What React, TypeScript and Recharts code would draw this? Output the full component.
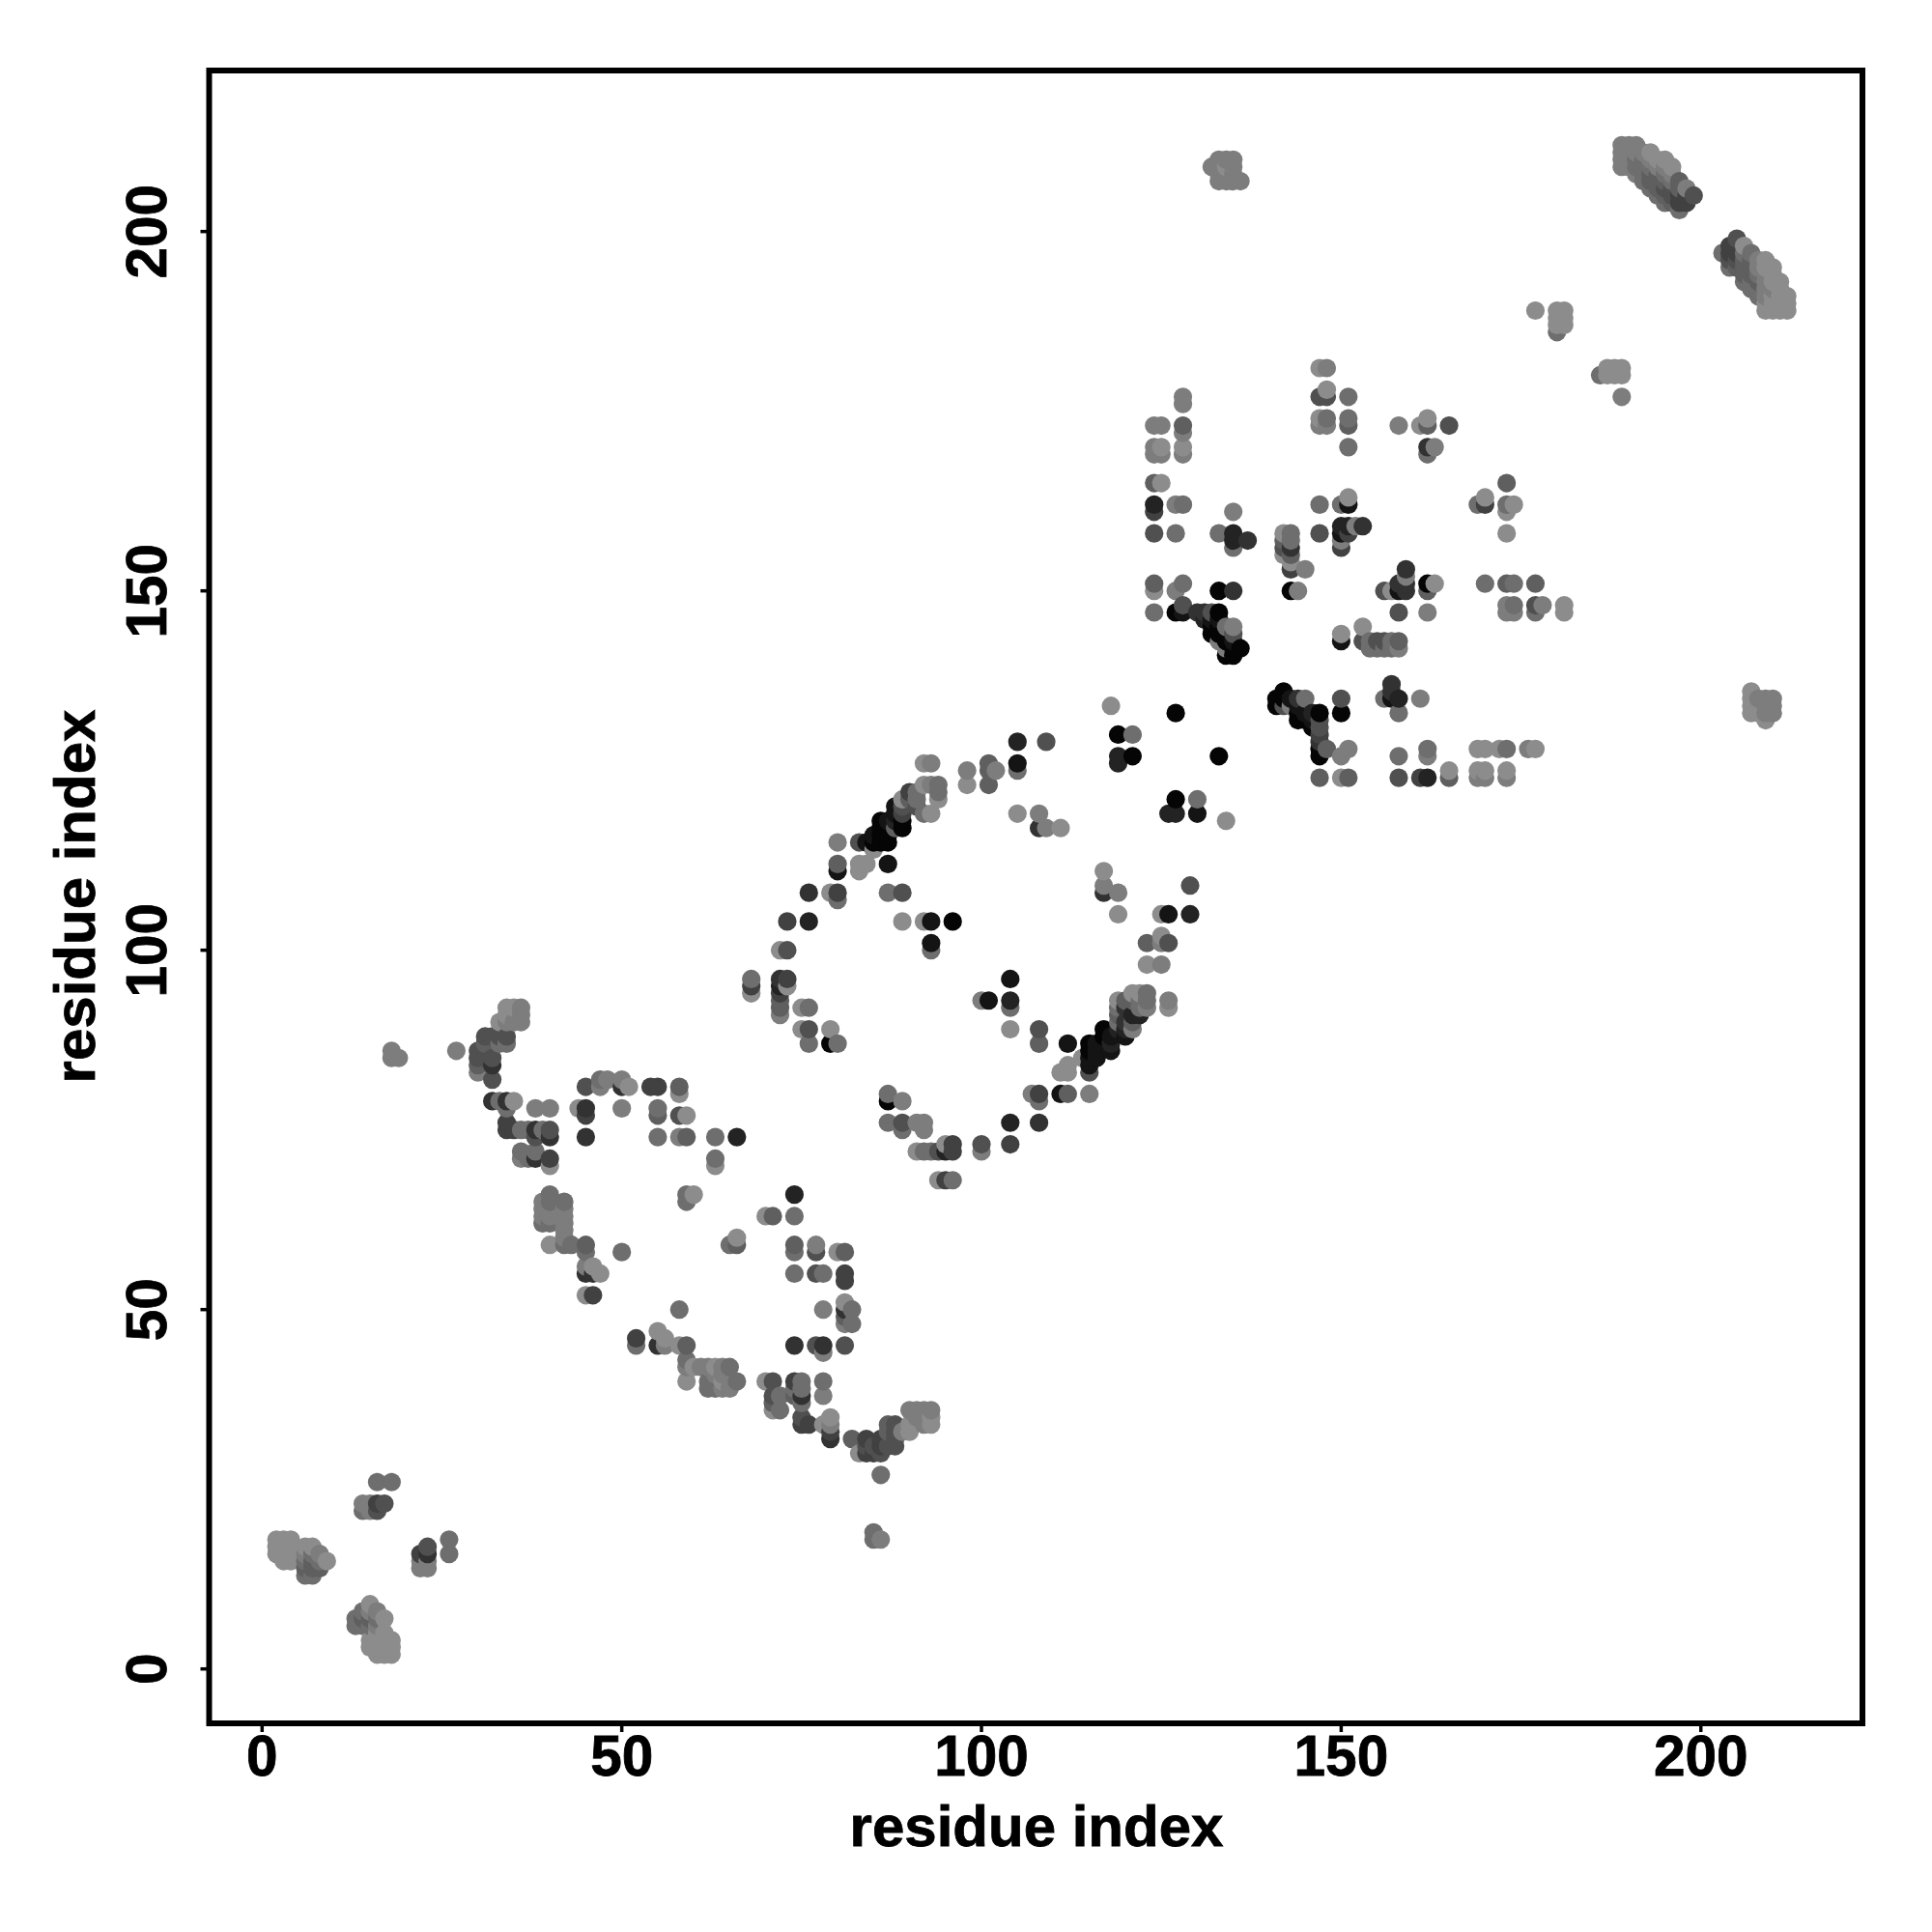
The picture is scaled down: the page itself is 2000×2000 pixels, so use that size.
import React from "react";
import { ScatterChart, Scatter, XAxis, YAxis, ReferenceArea } from "recharts";

type P = [number, number, number];

// [residue i, residue j, contact strength level 0..9]
const nTerminal: P[] = [
  [2,16,0],[2,17,0],[2,18,0],[3,15,0],[3,16,0],[3,17,0],[3,18,0],[4,15,0],[4,16,0],[4,17,0],[4,18,0],
  [6,13,2],[6,14,3],[6,15,2],[6,16,1],[6,17,0],[7,13,2],[7,14,3],[7,15,3],[7,16,2],[7,17,0],[8,14,3],[8,15,2],[8,16,1],[9,15,0],
  [13,6,2],[13,7,2],[14,6,2],[14,7,3],[14,8,2],[15,6,2],[15,7,3],[15,8,1],[15,9,0],[16,6,1],[16,7,2],[16,8,1],[17,7,0],
  [15,3,0],[15,4,0],[16,2,0],[16,3,0],[16,4,0],[16,5,0],[17,2,0],[17,3,0],[17,4,0],[17,5,0],[18,2,0],[18,3,0],[18,4,0],
  [14,22,2],[14,23,1],[15,22,1],[15,23,1],[16,22,4],[16,23,5],[17,23,4],[16,26,2],[18,26,2],
  [22,14,1],[22,15,1],[22,16,5],[23,14,1],[23,15,1],[23,16,6],[23,17,4],[26,16,2],[26,18,2],
  [18,86,1],[18,85,1],[19,85,1],[85,19,2],[85,18,2],[86,18,1],
];

const helixLeft: P[] = [
  [27,86,1],[33,90,0],[34,92,0],[34,91,0],[35,92,0],[36,92,1],[36,91,1],[36,90,1],[35,90,1],[34,90,1],
  [31,88,4],[32,88,4],[33,88,4],[34,88,4],[33,87,2],[34,87,2],[31,87,3],
  [30,86,4],[30,85,4],[30,84,3],[30,83,1],[31,86,4],[31,85,4],[32,85,4],[32,84,6],[32,82,4],
  [32,79,6],[33,79,2],[34,79,6],[35,79,0],[34,78,2],[38,78,1],[40,78,1],
  [34,76,5],[34,75,5],[35,75,5],[36,75,2],[37,75,2],[38,75,6],[39,75,2],[40,75,4],[40,74,6],[38,74,4],
  [36,72,2],[36,71,1],[37,71,2],[38,72,2],[38,71,6],[40,71,5],[40,70,0],
  [39,65,1],[39,64,1],[39,63,1],[39,62,2],[40,66,2],[40,65,2],[40,64,1],[40,63,1],[40,62,2],
  [42,65,2],[42,64,1],[42,63,1],[42,62,1],[42,61,1],[42,60,1],[40,59,0],[42,59,2],[43,59,2],
  [45,59,3],[45,58,2],[45,56,1],[45,55,6],[46,56,0],[46,55,6],[47,55,0],[45,52,0],[46,52,5],[50,58,2],
  [44,78,0],[45,81,4],[45,78,6],[45,77,5],[45,74,6],[47,82,2],[47,81,1],[48,82,1],[50,82,1],[50,81,6],[51,81,0],[50,78,1],
  [54,81,5],[55,81,5],[58,81,3],[58,80,0],[55,78,2],[55,77,3],[58,77,4],[59,77,0],[55,74,2],[58,74,1],[59,74,3],
  [63,74,2],[66,74,7],[63,71,2],[63,70,0],[59,66,2],[60,66,0],[59,65,2],[74,66,7],[70,63,0],[71,63,3],[74,63,2],
  [65,59,2],[66,60,0],[66,59,3],
];

const sheetLower: P[] = [
  [74,59,3],[74,58,2],[77,59,1],[77,58,4],[80,58,0],[81,58,3],[74,55,2],[77,55,4],[78,55,2],[81,55,5],[81,54,5],
  [78,50,1],[81,51,0],[81,50,6],[82,50,2],[81,49,3],[81,48,1],[82,48,2],[58,50,2],
  [52,46,5],[52,45,2],[55,47,0],[55,45,6],[56,46,0],[56,45,1],[58,45,0],[59,45,3],[74,45,6],[77,45,4],[78,45,6],[78,44,1],[81,45,4],
  [59,43,2],[59,42,1],[60,42,0],[61,42,1],[62,42,1],[63,42,0],[64,42,1],[65,42,2],[59,40,0],
  [62,40,2],[62,39,2],[63,41,1],[63,40,2],[63,39,2],[64,41,1],[64,40,0],[64,39,1],[65,39,1],[66,40,2],
  [70,40,0],[71,40,4],[71,38,4],[72,38,2],[71,37,3],[71,36,0],[72,36,2],
  [74,40,5],[75,40,2],[74,39,2],[74,38,3],[75,39,2],[75,38,6],[75,37,2],[75,35,4],[75,34,5],[76,34,5],[78,40,2],[78,38,1],
  [78,34,0],[79,35,0],[79,34,1],[79,33,5],[79,32,6],[82,32,3],[83,30,0],[84,32,5],[84,31,4],[84,30,5],[85,31,4],[85,30,5],[86,32,5],[86,31,5],[86,30,4],
  [87,34,3],[87,33,3],[87,31,4],[88,34,4],[88,33,4],[88,32,4],[88,31,4],[86,27,2],
  [89,33,1],[90,33,0],[90,34,0],[90,36,1],[91,35,1],[91,36,1],[92,36,1],[92,34,1],[93,36,1],[93,35,0],[93,34,0],
];

const ringMiddle: P[] = [
  [68,96,2],[68,95,5],[68,94,0],[72,96,6],[73,96,5],[72,95,7],[73,95,0],[72,94,5],[72,93,3],[72,92,3],[72,91,1],
  [75,92,0],[76,92,2],[75,89,0],[76,89,4],[76,87,2],[79,89,0],[79,87,9],[80,87,2],
  [87,80,2],[87,79,9],[89,79,1],[87,76,2],[89,76,4],[89,75,2],[91,76,1],[92,76,1],[92,75,1],
  [91,72,0],[92,72,2],[93,72,2],[94,72,4],[95,73,0],[96,73,5],[96,72,5],[95,72,7],[94,68,0],[95,68,5],[96,68,2],
  [100,73,4],[100,72,1],[104,76,7],[108,76,6],[104,73,5],
  [72,100,0],[73,100,4],[73,104,5],[76,104,7],[76,108,6],[79,108,0],[80,108,5],[80,107,2],
  [80,115,1],[80,112,3],[80,111,8],[83,112,0],[84,112,0],[83,111,0],[87,112,8],
  [87,108,2],[89,108,4],[89,104,0],[92,104,0],[93,104,8],[96,104,9],[93,101,8],[93,100,2],
  [104,96,8],[104,93,7],[104,92,2],[100,93,1],[101,93,8],[104,89,0],[108,89,4],[108,87,3],[112,87,8],
  [118,134,0],[127,133,9],[119,130,9],[121,130,2],[119,127,7],[119,126,7],[121,127,9],
  [105,129,7],[109,129,4],[105,126,8],[105,125,2],[98,125,1],[98,123,0],[101,126,3],[101,125,3],[102,125,1],[101,123,3],
  [92,126,0],[93,126,1],[105,119,0],[108,119,1],[108,117,6],[109,117,1],[111,117,0],
  [117,111,0],[117,109,1],[117,108,6],[119,108,1],[119,105,0],[129,109,4],[129,105,7],[126,105,8],[125,105,0],
  [123,101,3],[125,102,0],[125,101,1],[126,101,4],[123,98,0],[125,98,1],[126,93,1],[126,92,0],
  [115,80,1],[111,80,8],[112,80,3],[107,80,1],[108,80,5],[108,79,2],
  [134,118,0],[127,121,9],[130,121,2],[126,119,7],[127,119,7],[130,119,8],
];

const arcUpper: P[] = [
  [92,123,0],[93,123,1],[94,123,2],[94,122,2],[94,121,0],[93,119,0],[92,119,2],[91,122,2],[91,121,2],[91,120,4],[90,122,5],[90,121,3],
  [89,121,0],[89,120,4],[88,120,8],[88,119,8],[89,119,5],[89,118,9],[89,117,9],[88,117,3],[88,118,7],[87,118,8],
  [86,118,9],[86,117,9],[87,116,9],[86,116,9],[85,116,8],[87,115,9],[86,115,9],[85,115,9],[84,115,8],[83,115,4],[85,114,0],
];

const arcLower: P[] = [
  [123,94,2],[122,94,0],[121,94,0],[123,93,2],[122,93,2],[122,92,2],[123,92,1],[121,93,3],[120,92,6],[120,93,3],[122,91,7],[121,91,7],
  [119,93,0],[119,92,2],[119,91,3],[120,90,6],[121,90,3],[121,89,1],[120,89,7],[120,88,8],[119,90,2],[119,89,7],
  [117,89,9],[117,88,9],[118,88,8],[118,87,7],[118,86,8],[116,87,8],[115,87,9],[115,86,9],[116,86,8],[115,85,8],[116,85,8],[115,84,8],[115,83,4],
  [114,85,0],[112,84,0],[111,83,0],[112,83,0],
];

const betaCore: P[] = [
  [147,181,0],[148,181,1],[148,178,0],[147,177,4],[148,177,4],[151,177,2],[147,174,0],[148,174,2],[147,173,1],[148,173,1],[151,174,2],[151,173,3],[151,170,2],
  [128,177,1],[128,176,1],[124,173,1],[125,173,1],[128,173,3],[128,172,1],[124,170,1],[124,169,1],[125,170,0],[125,169,1],[128,170,0],[128,169,1],
  [124,165,3],[125,165,0],[124,162,7],[124,161,5],[127,162,1],[128,162,2],[124,158,4],[127,158,2],
  [135,161,1],[133,158,2],[135,158,7],[135,157,7],[137,157,6],[135,156,2],
  [142,158,0],[143,158,2],[143,157,2],[142,157,3],[142,156,4],[143,156,6],[142,155,0],[143,155,3],[143,154,0],[143,153,5],[145,153,1],[143,150,9],[144,150,1],
  [147,162,2],[150,162,2],[151,163,0],[151,162,8],[147,158,4],[150,159,7],[151,159,7],[152,159,1],[153,159,6],[150,158,8],[151,158,5],[150,157,1],[150,156,5],
  [158,173,1],[161,173,0],[162,174,0],[162,173,3],[165,173,4],[162,170,6],[163,170,1],[162,169,2],
  [173,165,3],[169,162,2],[170,163,0],[170,162,5],[173,162,2],[174,162,0],[173,161,0],[173,158,0],
  [124,151,3],[124,150,0],[128,151,2],[127,150,1],[133,150,9],[135,150,6],
  [124,147,2],[127,147,9],[128,147,8],[128,148,4],[130,147,6],[131,147,6],[132,147,4],[133,147,9],[131,146,7],[132,146,8],[133,146,8],
  [132,145,9],[132,144,9],[133,145,9],[133,144,9],[134,145,2],[135,145,1],[135,144,4],[133,143,1],[134,143,9],[135,143,8],[136,142,9],[134,142,1],[135,142,9],[134,141,9],[135,141,9],
  [156,150,4],[157,150,0],[158,150,8],[159,150,6],[158,151,6],[159,151,6],[159,153,6],[159,152,1],[162,151,9],[163,151,0],[162,150,3],[158,147,4],[162,147,1],
  [170,151,2],[173,151,3],[174,151,2],[177,151,3],[173,148,1],[174,148,2],[173,147,1],[174,147,1],[177,148,4],[178,148,1],[177,147,2],[181,148,0],[181,147,0],
  [153,145,0],[150,144,0],[150,143,8],[153,143,4],[154,143,2],[154,142,2],[155,143,4],[155,142,2],[156,143,4],[156,142,2],[157,143,2],[157,142,2],[158,143,3],[158,142,1],
  [157,137,6],[156,135,2],[157,135,8],[158,135,7],[157,136,6],[161,135,1],[158,133,2],[150,135,4],[150,133,9],[133,127,9],
  [141,135,9],[141,134,9],[142,136,9],[142,135,9],[142,134,4],[143,135,8],[143,134,1],[144,135,6],[145,135,2],[144,134,8],[144,133,9],[144,132,9],[145,133,8],[145,132,9],
  [146,133,7],[146,132,8],[146,131,9],[147,133,9],[147,132,4],[147,131,4],[147,130,5],[147,129,6],[147,128,9],[148,128,3],[147,127,9],
  [151,128,1],[150,127,1],[147,124,3],[150,124,0],[151,124,3],[158,127,2],[162,128,2],[162,127,1],[158,124,4],[161,124,5],[162,124,7],[165,125,0],[165,124,3],
  [169,128,0],[170,128,0],[172,128,0],[173,128,2],[176,128,1],[177,128,0],[169,125,0],[170,125,0],[169,124,1],[170,124,1],[173,125,0],[173,124,1],
];

const cTerminal: P[] = [
  [132,209,1],[133,210,1],[134,210,1],[135,210,1],[133,209,1],[134,209,0],[135,209,1],[133,208,1],[134,208,1],[135,208,1],[133,207,1],[134,207,1],[135,207,1],[136,207,1],
  [189,212,1],[189,211,1],[189,210,1],[189,209,1],
  [190,212,1],[190,211,1],[190,210,1],[190,209,1],
  [191,212,1],[191,211,1],[191,210,2],[191,209,2],[191,208,1],
  [192,211,1],[192,210,2],[192,209,2],[192,208,2],[192,207,2],
  [193,211,0],[193,210,1],[193,209,2],[193,208,3],[193,207,3],[193,206,2],
  [194,210,0],[194,209,1],[194,208,3],[194,207,3],[194,206,3],[194,205,2],
  [195,210,0],[195,209,1],[195,208,2],[195,207,3],[195,206,4],[195,205,3],[195,204,2],
  [196,209,0],[196,208,1],[196,207,2],[196,206,4],[196,205,4],[196,204,3],
  [197,207,3],[197,206,3],[197,205,5],[197,204,5],[197,203,2],
  [198,206,1],[198,205,5],[198,204,5],[199,205,4],
  [203,197,2],[204,198,5],[204,197,5],[204,196,4],[204,195,2],[205,199,4],[205,198,5],[205,197,5],[205,196,4],[205,195,3],
  [206,198,0],[206,197,2],[206,196,3],[206,195,3],[206,194,3],[206,193,2],
  [207,197,2],[207,196,3],[207,195,3],[207,194,3],[207,193,2],[207,192,2],
  [208,196,1],[208,195,1],[208,194,2],[208,193,3],[208,192,2],[208,191,2],
  [209,196,0],[209,195,0],[209,194,1],[209,193,1],[209,192,1],[209,191,1],[209,189,0],[209,190,0],
  [210,195,0],[210,194,0],[210,193,0],[210,192,1],[210,191,0],[210,190,0],[210,189,0],
  [211,193,0],[211,192,0],[211,191,0],[211,189,0],[212,191,0],[212,190,0],[212,189,0],
  [177,189,0],[180,189,0],[181,189,0],[180,188,0],[181,188,0],[180,187,0],[181,187,0],[180,186,2],
  [186,180,2],[187,181,0],[188,181,0],[189,181,0],[187,180,0],[188,180,0],[189,180,0],[189,177,1],
  [207,136,0],[207,135,0],[207,134,0],[207,133,0],[208,135,1],[208,134,0],[208,133,0],[209,135,1],[209,134,1],[209,133,1],[209,132,0],[210,135,1],[210,134,1],[210,133,1],
];

const clusters: P[][] = [nTerminal, helixLeft, sheetLower, ringMiddle, arcUpper, arcLower, betaCore, cTerminal];

const residueTicks = [0, 50, 100, 150, 200];
const xExtent: [number, number] = [-7.36, 222.46];
const yExtent: [number, number] = [-7.57, 222.4];
const axisTitle = "residue index";

// Later residues paint over earlier ones, as in the source.
const byKey = new Map<string, P>();
clusters.flat().forEach((p) => byKey.set(p[0] + "," + p[1], p));
const contacts = Array.from(byKey.values())
  .sort((a, b) => a[0] - b[0] || a[1] - b[1])
  .map(([x, y, s]) => ({ x, y, s }));

const shade = (s: number) => {
  const g = 140 - 15 * s;
  return `rgb(${g},${g},${g})`;
};

const FONT = '"Liberation Sans", Arial, sans-serif';
const tickStyle = { fontFamily: FONT, fontWeight: 700, fontSize: 58.5, fill: "#000", stroke: "#000", strokeWidth: 0.8 };
const titleStyle = { fontFamily: FONT, fontWeight: 700, fontSize: 60, fill: "#000", stroke: "#000", strokeWidth: 0.8 };

const XTick = (p: any) => (
  <text x={p.x} y={1838} textAnchor="middle" style={tickStyle}>{p.payload.value}</text>
);
const YTick = (p: any) => (
  <text x={172} y={p.y} textAnchor="middle" transform={`rotate(-90 172 ${p.y})`} style={tickStyle}>{p.payload.value}</text>
);
const Dot = (p: any) => <circle cx={p.cx} cy={p.cy} r={9.6} fill={shade(p.payload.s)} />;

export default function App() {
  return (
    <div style={{ position: "absolute", left: 0, top: 0, width: 2000, height: 2000, background: "#fff" }}>
      <ScatterChart width={2000} height={2000} margin={{ top: 73, right: 72, bottom: 0, left: 0 }}>
        <XAxis
          type="number"
          dataKey="x"
          domain={xExtent}
          ticks={residueTicks}
          height={216}
          axisLine={false}
          tickSize={9}
          tickLine={{ stroke: "#000", strokeWidth: 3.5 }}
          tick={XTick}
          interval={0}
          allowDataOverflow
          label={{
            value: axisTitle,
            content: () => (
              <text x={1073} y={1911} textAnchor="middle" style={titleStyle}>{axisTitle}</text>
            ),
          }}
        />
        <YAxis
          type="number"
          dataKey="y"
          domain={yExtent}
          ticks={residueTicks}
          width={216.5}
          axisLine={false}
          tickSize={9}
          tickLine={{ stroke: "#000", strokeWidth: 3.5 }}
          tick={YTick}
          interval={0}
          allowDataOverflow
          label={{
            value: axisTitle,
            content: () => (
              <text x={98} y={928} textAnchor="middle" transform="rotate(-90 98 928)" style={titleStyle}>{axisTitle}</text>
            ),
          }}
        />
        <Scatter data={contacts} isAnimationActive={false} shape={Dot} />
        <ReferenceArea x1={xExtent[0]} x2={xExtent[1]} y1={yExtent[0]} y2={yExtent[1]} fill="none" fillOpacity={0} stroke="#000" strokeWidth={6} ifOverflow="visible" />
      </ScatterChart>
    </div>
  );
}
